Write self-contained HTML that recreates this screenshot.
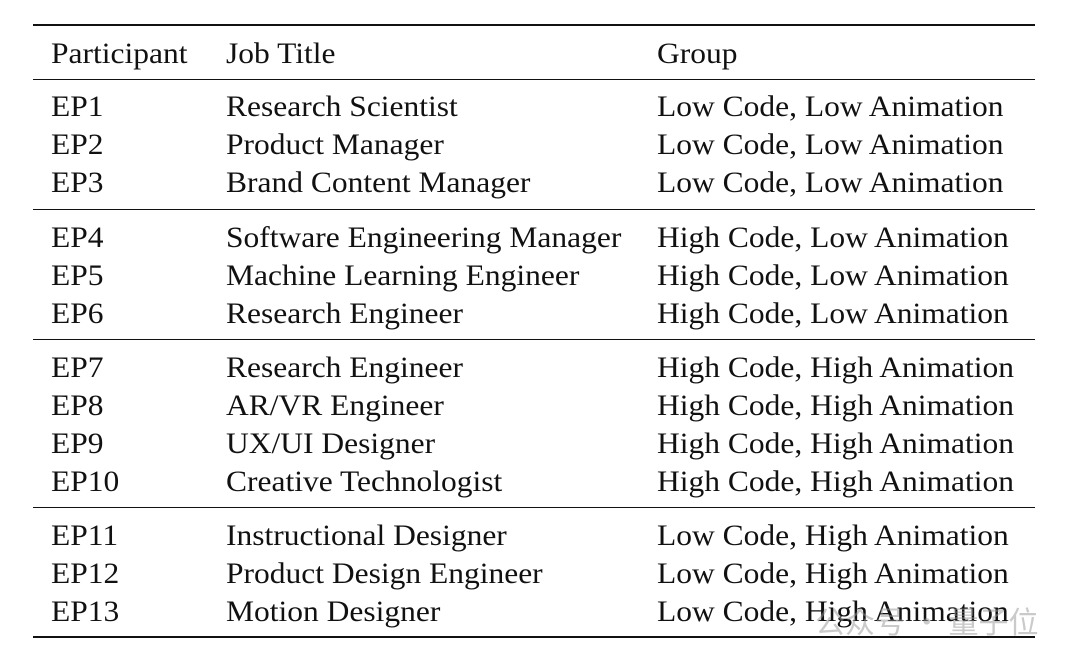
<!DOCTYPE html>
<html><head><meta charset="utf-8"><style>
body{margin:0;width:1080px;height:667px;background:#fff;position:relative;overflow:hidden;font-family:"Liberation Serif",serif;color:#111}
.t{position:absolute;font-size:30px;line-height:28px;white-space:nowrap;transform:scaleX(1.05);transform-origin:0 0}
.r{position:absolute;left:33px;width:1002px;background:#111}
.wm{position:absolute;left:815px;top:598px;font-family:"Noto Sans CJK SC",sans-serif;font-size:30px;color:rgba(150,150,150,0.5)}
</style></head><body>
<div class="r" style="top:24px;height:2px"></div>
<div class="r" style="top:79px;height:1px"></div>
<div class="r" style="top:209px;height:1px"></div>
<div class="r" style="top:339px;height:1px"></div>
<div class="r" style="top:507px;height:1px"></div>
<div class="r" style="top:636px;height:2px"></div>
<div class="t" style="left:51px;top:40px">Participant</div>
<div class="t" style="left:226px;top:40px">Job Title</div>
<div class="t" style="left:657px;top:40px">Group</div>

<div class="t" style="left:51px;top:93px">EP1</div><div class="t" style="left:226px;top:93px">Research Scientist</div><div class="t" style="left:657px;top:93px">Low Code, Low Animation</div>
<div class="t" style="left:51px;top:131px">EP2</div><div class="t" style="left:226px;top:131px">Product Manager</div><div class="t" style="left:657px;top:131px">Low Code, Low Animation</div>
<div class="t" style="left:51px;top:169px">EP3</div><div class="t" style="left:226px;top:169px">Brand Content Manager</div><div class="t" style="left:657px;top:169px">Low Code, Low Animation</div>

<div class="t" style="left:51px;top:224px">EP4</div><div class="t" style="left:226px;top:224px">Software Engineering Manager</div><div class="t" style="left:657px;top:224px">High Code, Low Animation</div>
<div class="t" style="left:51px;top:262px">EP5</div><div class="t" style="left:226px;top:262px">Machine Learning Engineer</div><div class="t" style="left:657px;top:262px">High Code, Low Animation</div>
<div class="t" style="left:51px;top:300px">EP6</div><div class="t" style="left:226px;top:300px">Research Engineer</div><div class="t" style="left:657px;top:300px">High Code, Low Animation</div>

<div class="t" style="left:51px;top:354px">EP7</div><div class="t" style="left:226px;top:354px">Research Engineer</div><div class="t" style="left:657px;top:354px">High Code, High Animation</div>
<div class="t" style="left:51px;top:392px">EP8</div><div class="t" style="left:226px;top:392px">AR/VR Engineer</div><div class="t" style="left:657px;top:392px">High Code, High Animation</div>
<div class="t" style="left:51px;top:430px">EP9</div><div class="t" style="left:226px;top:430px">UX/UI Designer</div><div class="t" style="left:657px;top:430px">High Code, High Animation</div>
<div class="t" style="left:51px;top:468px">EP10</div><div class="t" style="left:226px;top:468px">Creative Technologist</div><div class="t" style="left:657px;top:468px">High Code, High Animation</div>

<div class="t" style="left:51px;top:522px">EP11</div><div class="t" style="left:226px;top:522px">Instructional Designer</div><div class="t" style="left:657px;top:522px">Low Code, High Animation</div>
<div class="t" style="left:51px;top:560px">EP12</div><div class="t" style="left:226px;top:560px">Product Design Engineer</div><div class="t" style="left:657px;top:560px">Low Code, High Animation</div>
<div class="t" style="left:51px;top:598px">EP13</div><div class="t" style="left:226px;top:598px">Motion Designer</div><div class="t" style="left:657px;top:598px">Low Code, High Animation</div>
<div class="wm">公众号 · 量子位</div>
</body></html>
